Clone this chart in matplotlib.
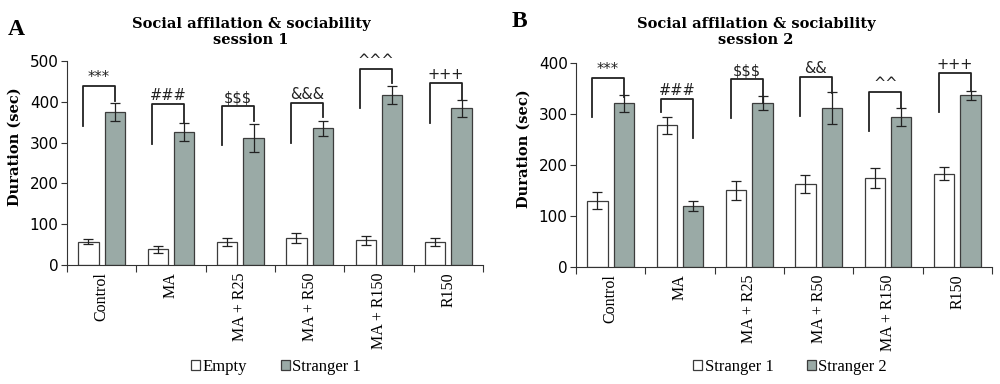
import numpy as np
import matplotlib.pyplot as plt

groups = ['Control', 'MA', 'MA + R25', 'MA + R50', 'MA + R150', 'R150']

# session 1
s1_empty = [57, 38, 57, 67, 60, 56]
s1_empty_err = [6, 9, 10, 12, 10, 9]
s1_stranger1 = [376, 327, 312, 335, 416, 384]
s1_stranger1_err = [22, 22, 34, 18, 22, 20]
s1_marks = ['***', '###', '$$$', '&&&', '^^^', '+++']
s1_br_top = [438, 394, 389, 396, 481, 447]
s1_br_left = [341, 297, 293, 299, 385, 349]
s1_br_right = [401, 349, 352, 364, 446, 405]

# session 2
s2_stranger1 = [130, 278, 150, 162, 174, 183]
s2_stranger1_err = [17, 17, 19, 18, 19, 13]
s2_stranger2 = [321, 120, 322, 312, 294, 337]
s2_stranger2_err = [17, 10, 14, 31, 17, 9]
s2_marks = ['***', '###', '$$$', '&&', '^^', '+++']
s2_br_top = [371, 329, 368, 373, 344, 380]
s2_br_left = [294, 304, 292, 296, 267, 303]
s2_br_right = [334, 252, 321, 342, 311, 346]

gray = '#9aaaa6'
edge = '#3c3c3c'
serif = 'Liberation Serif'
head = 'DejaVu Serif'

fig = plt.figure(figsize=(10, 3.84), dpi=100)


def panel(rect, v1, e1, v2, e2, ymax, marks, top, lb, rb, names, legx):
    ax = fig.add_axes(rect)
    x = np.arange(len(groups))
    off = 0.19
    w = 0.29
    ax.bar(x - off, v1, width=w, color='white', edgecolor=edge, linewidth=0.9,
           label=names[0], zorder=2)
    ax.bar(x + off, v2, width=w, color=gray, edgecolor=edge, linewidth=0.9,
           label=names[1], zorder=2)
    ax.errorbar(x - off, v1, yerr=e1, fmt='none', ecolor='#222222',
                elinewidth=0.9, capsize=3.5, capthick=0.9, zorder=3)
    ax.errorbar(x + off, v2, yerr=e2, fmt='none', ecolor='#222222',
                elinewidth=0.9, capsize=3.5, capthick=0.9, zorder=3)
    for i in range(len(groups)):
        xl = x[i] - off - 0.08
        xr = x[i] + off
        ax.plot([xl, xl, xr, xr], [lb[i], top[i], top[i], rb[i]],
                color='#222222', lw=1.3, zorder=4, clip_on=False)
        ax.text((xl + xr) / 2, top[i] + ymax * 0.005, marks[i], ha='center',
                va='bottom', fontsize=10.5, color='#222222')
    ax.set_xlim(-0.5, len(groups) - 0.5)
    ax.set_ylim(0, ymax)
    ax.set_yticks(np.arange(0, ymax + 1, 100))
    ax.spines['top'].set_visible(False)
    ax.spines['right'].set_visible(False)
    ax.spines['left'].set_color('#333333')
    ax.spines['bottom'].set_color('#333333')
    ax.set_xticks(np.arange(-0.5, len(groups), 1.0))
    ax.set_xticklabels([])
    ax.tick_params(axis='x', length=5, color='#333333')
    ax.tick_params(axis='y', length=4, labelsize=11, color='#333333', pad=2)
    for i, g in enumerate(groups):
        ax.text(x[i], -ymax * 0.035, g, rotation=90, ha='center', va='top',
                fontsize=11.5, family=serif)
    ax.set_ylabel('Duration (sec)', fontsize=10.5, fontweight='bold',
                  family=head)
    ax.yaxis.set_label_coords(-0.108, 0.58)
    ax.legend(loc='center', bbox_to_anchor=(legx, 0.045),
              bbox_transform=fig.transFigure, ncol=2, frameon=False,
              handlelength=0.55, handleheight=0.55, handletextpad=0.15,
              columnspacing=2.0, prop={'family': serif, 'size': 12})
    return ax


panel([0.067, 0.31, 0.416, 0.531], s1_empty, s1_empty_err, s1_stranger1,
      s1_stranger1_err, 500, s1_marks, s1_br_top, s1_br_left, s1_br_right,
      ['Empty', 'Stranger 1'], 0.276)
panel([0.576, 0.305, 0.416, 0.531], s2_stranger1, s2_stranger1_err,
      s2_stranger2, s2_stranger2_err, 400, s2_marks, s2_br_top, s2_br_left,
      s2_br_right, ['Stranger 1', 'Stranger 2'], 0.79)

fig.text(0.251, 0.917, 'Social affilation & sociability\nsession 1',
         ha='center', va='center', fontsize=10.5, fontweight='bold',
         family=head, linespacing=1.2)
fig.text(0.756, 0.917, 'Social affilation & sociability\nsession 2',
         ha='center', va='center', fontsize=10.5, fontweight='bold',
         family=head, linespacing=1.2)
fig.text(0.008, 0.922, 'A', ha='left', va='center', fontsize=17,
         fontweight='bold', family=serif)
fig.text(0.512, 0.943, 'B', ha='left', va='center', fontsize=17,
         fontweight='bold', family=serif)

fig.savefig('out.png', dpi=100)
